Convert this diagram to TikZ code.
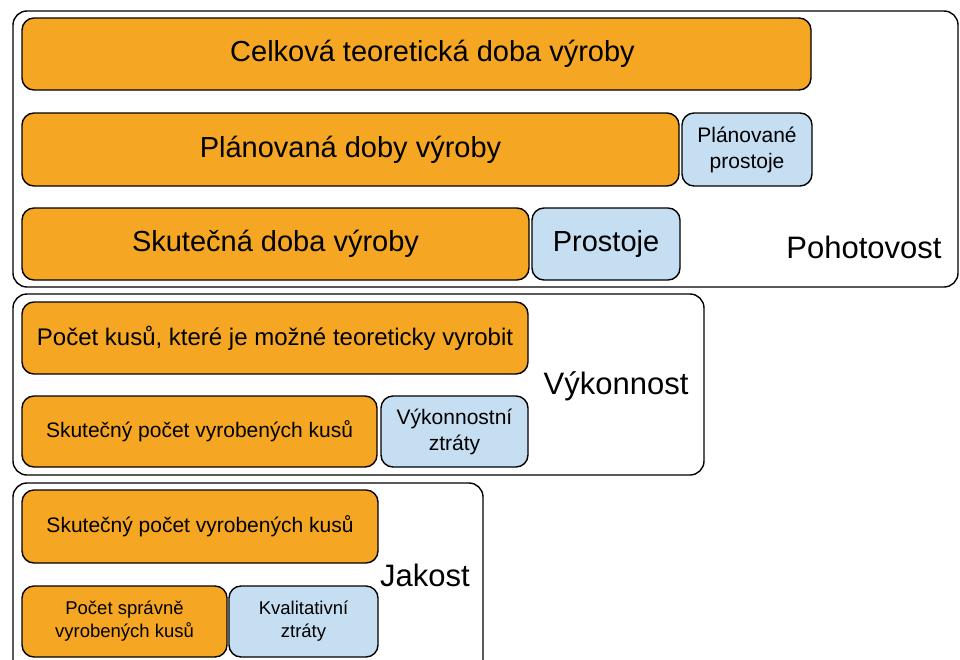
\documentclass[tikz,border=0pt]{standalone}
\usepackage{fontspec}
\setmainfont{Liberation Sans}
\definecolor{oeeorange}{RGB}{245,166,35}
\definecolor{oeeblue}{RGB}{197,222,242}
\tikzset{
  bar/.style={draw, line width=1.4pt, rounded corners=12pt, inner sep=0pt,
    align=center, font=\fontsize{29}{34}\selectfont},
  timebar/.style={bar, fill=oeeorange},
  lossbar/.style={bar, fill=oeeblue},
  small/.style={font=\fontsize{21}{26}\selectfont},
  smaller/.style={font=\fontsize{18.5}{23}\selectfont},
  frame/.style={draw, line width=1.4pt, rounded corners=14pt},
  framelabel/.style={font=\fontsize{31}{36}\selectfont}
}
\begin{document}
\begin{tikzpicture}[x=1pt,y=-1pt]
    \useasboundingbox (0,0) rectangle (960,659);
    \clip (0,0) rectangle (960,659);
    % Pohotovost
    \draw[frame] (13,11) rectangle (958,287);
    \node[timebar,minimum width=789pt,minimum height=72pt] (celk) at (416.5,54) {\hspace*{32pt}Celková teoretická doba výroby};
    \node[timebar,minimum width=657pt,minimum height=73pt] (plan) at (350.5,149.5) {Plánovaná doby výroby};
    \node[lossbar,small,minimum width=130pt,minimum height=73pt] (planprost) at (747,149.5) {Plánované\\prostoje};
    \node[timebar,minimum width=507pt,minimum height=72pt] (skut) at (275.5,244) {Skutečná doba výroby};
    \node[lossbar,minimum width=148pt,minimum height=72pt] (prost) at (606,244) {Prostoje};
    \node[framelabel] (poh) at (864,247) {Pohotovost};
    % Výkonnost
    \draw[frame] (13,294) rectangle (704,475);
    \node[timebar,font=\fontsize{24}{29}\selectfont,minimum width=506pt,minimum height=72pt] (teor) at (275,338) {Počet kusů, které je možné teoreticky vyrobit};
    \node[timebar,small,minimum width=355pt,minimum height=71pt] (kusy) at (199.5,431.5) {Skutečný počet vyrobených kusů};
    \node[lossbar,small,minimum width=147pt,minimum height=71pt] (vykztr) at (454.5,431.5) {Výkonnostní\\ztráty};
    \node[framelabel] (vyk) at (616,386) {Výkonnost};
    % Jakost
    \draw[frame] (13,483) rectangle (483,680);
    \node[timebar,small,minimum width=356pt,minimum height=73pt] (kusyb) at (200,526.5) {Skutečný počet vyrobených kusů};
    \node[timebar,smaller,minimum width=205pt,minimum height=71pt] (sprav) at (124.5,621.5) {Počet správně\\vyrobených kusů};
    \node[lossbar,smaller,minimum width=149pt,minimum height=71pt] (kval) at (303.5,621.5) {Kvalitativní\\ztráty};
    \node[framelabel] (jak) at (425,575) {Jakost};
\end{tikzpicture}
\end{document}
